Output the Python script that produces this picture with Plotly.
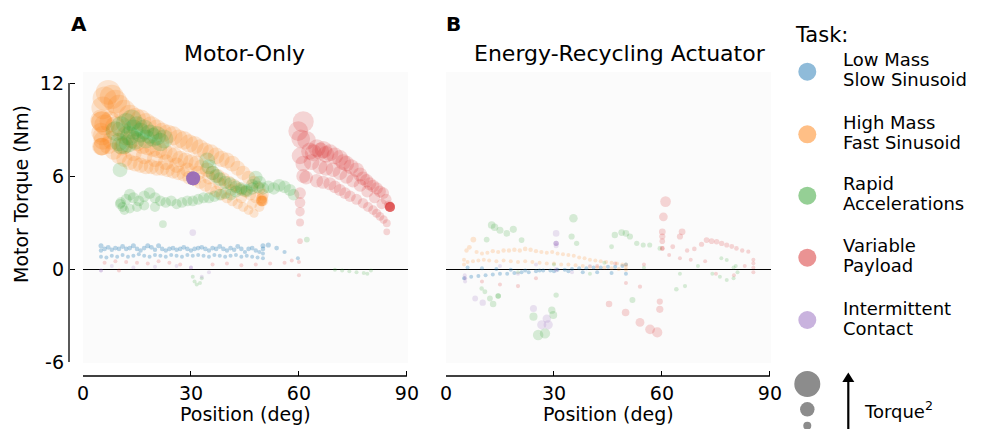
import plotly.graph_objects as go

W, H = 982, 429
FONT = "DejaVu Sans"

# ---------------- data: Panel A (Motor-Only) ----------------
a_blue_x = [5.0, 5.0, 6.0, 7.0, 8.0, 9.0, 10.0, 11.0, 12.0, 13.0, 14.0, 15.0, 16.0, 17.0, 18.0, 19.0, 20.0,
            21.0, 22.0, 23.0, 24.0, 25.0, 26.0, 27.0, 28.0, 29.0, 30.0, 31.0, 32.0, 33.0, 34.0, 35.0, 36.0,
            37.0, 38.0, 39.0, 40.0, 41.0, 42.0, 43.0, 44.0, 45.0, 46.0, 47.0, 48.0, 49.0, 50.0, 50.0, 50.0,
            5.0, 6.5, 8.0, 9.5, 11.0, 12.5, 14.0, 15.5, 17.0, 18.5, 20.0, 21.5, 23.0, 24.5, 26.0, 27.5, 29.0,
            30.5, 32.0, 33.5, 35.0, 36.5, 38.0, 39.5, 41.0, 42.5, 44.0, 45.5, 47.0, 48.5, 50.0,
            51.5, 53.8, 56.0, 59.7]
a_blue_t = [1.5, 1.2, 1.3, 1.4, 1.25, 1.35, 1.3, 1.45, 1.3, 1.35, 1.5, 1.3, 1.2, 1.35, 1.5, 1.4, 1.25,
            1.5, 1.3, 1.2, 1.3, 1.35, 1.25, 1.3, 1.4, 1.3, 1.2, 1.3, 1.35, 1.4, 1.3, 1.2, 1.35,
            1.3, 1.45, 1.3, 1.2, 1.35, 1.25, 1.45, 1.3, 1.1, 1.3, 1.35, 1.2, 1.1, 1.3, 1.0, 1.5,
            0.8, 0.75, 0.85, 0.8, 0.9, 0.8, 0.85, 0.95, 0.85, 0.8, 0.9, 0.85, 0.8, 0.9, 0.85, 0.8, 0.9,
            0.85, 0.9, 0.85, 0.8, 0.9, 0.85, 0.8, 0.85, 0.9, 0.8, 0.85, 0.8, 0.75, 0.7,
            1.55, 1.35, 1.1, 0.7]

a_orange_x = [5.0, 5.5, 6.0, 7.0, 8.0, 9.0, 10.0, 11.5, 13.0, 14.5, 16.0, 17.5, 19.0, 20.5, 22.0, 23.5, 25.0,
              26.5, 28.0, 29.5, 31.0, 32.5, 34.0, 35.5, 37.0, 38.5, 40.0, 41.5, 43.0, 44.5, 46.0, 47.5, 49.0, 50.0,
              5.0, 6.0, 7.5, 9.0, 10.5, 12.0, 13.5, 15.0, 16.5, 18.0, 19.5, 21.0, 22.5, 24.0, 25.5, 27.0,
              28.5, 30.0, 31.5, 33.0, 34.5, 36.0, 37.5, 39.0, 40.5, 42.0, 43.5, 45.0, 46.5, 48.0, 49.5,
              5.0, 5.5, 7.0, 8.5, 10.0, 11.5, 13.0, 14.5, 16.0, 17.5, 19.0, 20.5, 22.0, 23.5, 25.0, 26.5,
              28.0, 29.5, 31.0, 32.5, 34.0, 35.5, 37.0, 38.5, 40.0, 41.5, 43.0, 44.5, 46.0, 47.5, 49.0, 50.0,
              5.2, 5.2, 5.3, 5.3, 5.4, 49.6, 49.6, 49.8, 49.7,
              8.0, 11.0, 14.0, 17.0, 20.0, 23.0, 26.0, 29.0, 32.0, 35.0, 38.0, 41.0, 44.0, 47.0]
a_orange_t = [9.6, 10.4, 11.0, 11.4, 11.1, 10.8, 10.5, 10.2, 9.9, 9.7, 9.6, 9.4, 9.2, 9.0, 8.8, 8.7, 8.6,
              8.4, 8.3, 8.1, 8.0, 7.8, 7.6, 7.5, 7.3, 7.1, 7.0, 6.8, 6.5, 6.2, 5.9, 5.6, 5.2, 4.8,
              8.8, 9.3, 9.5, 9.2, 8.9, 8.6, 8.4, 8.2, 8.0, 7.9, 7.8, 7.7, 7.6, 7.4, 7.3, 7.1,
              7.0, 6.9, 6.8, 6.6, 6.4, 6.2, 6.0, 5.8, 5.6, 5.4, 5.2, 5.0, 4.8, 4.6, 4.5,
              7.9, 8.3, 8.0, 7.6, 7.3, 7.1, 6.9, 6.8, 6.7, 6.6, 6.6, 6.5, 6.5, 6.4, 6.3, 6.2,
              6.1, 5.9, 5.8, 5.6, 5.4, 5.2, 5.0, 4.8, 4.6, 4.4, 4.2, 4.0, 3.8, 3.6, 4.0, 4.4,
              9.5, 9.5, 7.9, 7.9, 8.6, 4.4, 4.4, 4.6, 4.4,
              8.3, 7.9, 7.5, 7.3, 7.1, 6.9, 6.7, 6.4, 6.2, 5.9, 5.5, 5.1, 4.6, 4.2]

a_green_x = [9.0, 10.0, 10.5, 11.5, 12.0, 13.0, 13.5, 14.5, 15.0, 16.0, 17.0, 17.5, 18.5, 19.5, 20.5, 21.5,
             22.5, 10.5, 12.5, 14.0, 10.3,
             34.5, 35.0, 36.0, 37.0, 38.0, 39.5, 41.0, 42.5, 44.0, 45.5, 47.0, 48.0, 49.0,
             10.3, 10.5, 11.0, 12.0, 13.0, 14.0, 15.5, 17.0, 18.5, 20.0, 21.5, 23.0, 24.5, 26.0, 27.5, 29.0,
             30.5, 32.0, 33.5, 35.0, 36.5, 38.0, 39.5, 41.0, 42.5, 44.0, 45.5, 47.0, 48.5, 50.0, 51.5, 53.0,
             54.5, 56.0, 57.5, 58.5, 11.5, 13.0, 15.0, 17.0, 20.0,
             22.2, 62.2, 30.5, 31.0, 31.6, 32.5, 33.0, 70.0, 72.0, 74.0, 76.0, 78.0, 80.0, 79.0]
a_green_t = [8.9, 8.2, 9.2, 8.0, 9.4, 8.6, 9.6, 8.3, 9.2, 8.8, 9.0, 8.4, 8.7, 8.5, 8.6, 8.2,
             8.4, 8.0, 8.1, 9.0, 6.4,
             7.0, 6.6, 6.2, 6.0, 5.8, 5.6, 5.5, 5.3, 5.2, 5.1, 5.4, 5.9, 5.6,
             4.2, 4.3, 4.0, 4.5, 4.8, 4.6, 4.4, 4.7, 4.9, 4.6, 4.4, 4.3, 4.4, 4.2, 4.3, 4.4,
             4.4, 4.5, 4.6, 4.6, 4.7, 4.8, 4.9, 4.8, 5.0, 5.1, 5.0, 5.2, 5.3, 5.2, 5.3, 5.2,
             5.4, 5.3, 5.1, 4.8, 3.8, 3.9, 4.0, 4.1, 4.0,
             2.9, 1.9, -0.5, -0.8, -1.0, -0.9, -0.6, -0.05, -0.1, -0.15, -0.2, -0.25, -0.1, -0.3]

a_red_x = [61.2, 59.8, 60.5, 62.1, 60.3, 61.2, 61.2, 60.3, 60.3, 60.3, 60.3, 60.3,
           63.0, 64.0, 65.0, 66.0, 66.8, 67.5, 68.6, 70.0, 71.4, 72.3, 73.2, 74.5, 76.0, 77.0, 77.8, 78.8,
           79.7, 80.6, 81.6, 82.5, 83.4, 84.2, 85.0, 85.3, 85.3, 85.3, 85.3, 85.3, 85.3,
           63.5, 65.8, 67.5, 69.5, 71.4, 73.2, 75.0, 77.0, 79.0, 81.0, 83.0,
           62.0, 64.9, 66.7, 68.6, 70.0, 71.4, 72.8, 74.2, 76.0, 77.8, 79.2, 80.6, 81.6, 82.5, 83.5, 84.4, 84.4,
           6.0, 9.0, 12.0, 15.0, 18.0, 21.0, 24.0, 27.0, 36.0, 40.0, 44.0, 48.0, 52.0, 56.0, 58.0, 60.0, 60.0, 10.0]
a_red_t = [9.5, 8.9, 8.4, 8.3, 7.3, 6.8, 6.0, 4.9, 4.3, 3.7, 3.0, 1.8,
           7.6, 7.5, 7.8, 7.6, 7.7, 7.4, 7.5, 7.3, 7.15, 6.9, 6.8, 6.6, 6.4, 6.1, 5.85, 5.7,
           5.5, 5.35, 5.2, 5.0, 4.9, 4.5, 4.1, 4.0, 4.0, 4.0, 4.0, 4.0, 4.0,
           6.9, 6.6, 6.5, 6.4, 6.2, 5.95, 5.7, 5.4, 5.0, 4.6, 4.2,
           5.9, 5.7, 5.6, 5.5, 5.3, 5.1, 4.9, 4.7, 4.5, 4.25, 4.0, 3.8, 3.6, 3.4, 3.2, 2.95, 2.4,
           0.4, 0.5, 0.45, 0.4, 0.35, 0.5, 0.4, 0.3, 0.3, 0.35, 0.25, 0.3, 0.35, 0.4, 0.55, 0.45, -0.4, -0.1]

a_purple_x = [30.6, 30.6, 30.6, 30.6, 30.6, 30.6, 30.6, 30.6, 30.6, 30.6, 30.6, 30.6,
              30.5, 5.0, 5.0, 30.0, 30.0,
              8.0, 14.0, 20.0, 26.0, 33.0, 35.0]
a_purple_t = [5.85, 5.85, 5.85, 5.85, 5.85, 5.85, 5.85, 5.85, 5.85, 5.85, 5.85, 5.85,
              2.35, -0.1, -0.1, 0.1, 0.1,
              0.2, 0.1, 0.15, 0.2, -0.5, -0.2]

# ---------------- data: Panel B (Energy-Recycling Actuator) ----------------
b_blue_x = [5, 7, 9, 11, 13, 15, 17, 19, 21, 23, 25, 27, 29, 31, 33, 35, 37, 39, 41, 43, 45, 47, 49, 50,
            6, 10, 14, 18, 22, 26, 30, 34, 38, 42, 46, 50]
b_blue_t = [-0.6, -0.5, -0.45, -0.4, -0.35, -0.3, -0.3, -0.25, -0.2, -0.2, -0.15, -0.1, -0.1, -0.05, -0.05,
            0.0, 0.05, 0.05, 0.1, 0.1, 0.15, 0.15, 0.2, 0.3,
            0.1, 0.05, 0.0, -0.05, -0.1, -0.1, -0.15, -0.15, -0.2, -0.2, -0.25, -0.3]

b_orange_x = [5.0, 5.7, 6.5, 7.6, 8.5, 10.0, 11.5, 13.0, 14.5, 16.0, 17.5, 19.0, 20.5, 22.0, 23.5, 25.0,
              26.5, 28.0, 29.5, 31.0, 32.5, 34.0, 35.5, 37.0, 38.5, 40.0, 41.5, 43.0, 44.5, 46.0, 47.5,
              49.0, 50.0,
              5.0, 6.0, 7.5, 9.0, 10.5, 12.0, 14.0, 16.0, 18.0, 20.0, 22.0, 24.0, 26.0, 28.0, 30.0, 32.0,
              34.0, 36.0, 38.0, 40.0, 42.0, 44.0, 46.0, 48.0, 50.0, 50.0]
b_orange_t = [0.6, 1.2, 1.4, 1.9, 1.1, 1.0, 1.05, 1.15, 1.1, 1.2, 1.2, 1.25, 1.2, 1.3, 1.25, 1.15,
              1.1, 1.05, 1.1, 1.0, 0.95, 0.9, 0.85, 0.75, 0.7, 0.6, 0.55, 0.5, 0.45, 0.4, 0.35,
              0.3, 0.3,
              0.3, 0.45, 0.5, 0.55, 0.6, 0.55, 0.5, 0.55, 0.5, 0.45, 0.5, 0.45, 0.4, 0.35, 0.35, 0.3,
              0.3, 0.25, 0.2, 0.15, 0.1, 0.1, 0.05, 0.0, -0.05, 0.15]

b_green_x = [11.3, 12.7, 13.5, 15.0, 16.9, 18.7, 21.0, 35.4, 34.9, 36.3, 46.0, 46.9, 48.8, 50.0, 51.1,
             53.0, 54.8, 56.6, 59.4,
             74.0, 76.1, 78.0, 79.9, 81.0, 80.5, 79.9, 78.0, 76.5,
             9.9, 10.8, 12.2, 14.5, 14.5, 13.1, 24.3, 25.6, 27.5, 29.4, 29.8, 30.6, 51.8, 66.4, 64.0,
             20.0, 30.0, 40.0, 44.0, 55.0, 65.0, 70.0]
b_green_t = [1.9, 2.84, 2.7, 2.5, 2.3, 2.56, 1.87, 3.27, 2.1, 1.66, 1.44, 2.2, 2.35, 2.3, 2.1,
             1.66, 1.55, 1.55, 1.33,
             -0.3, -0.5, -0.7, -0.6, -0.2, 0.2, 0.1, 0.58, 0.7,
             -1.25, -1.46, -1.9, -1.74, -1.74, -2.26, -3.07, -4.26, -4.15, -2.65, -2.97, -1.68, -2.0, -1.1, -1.3,
             -0.2, 0.3, -0.3, 0.4, 0.1, -0.3, 0.2]

b_red_x = [61.0, 60.4, 60.1, 60.1, 60.1, 60.1, 60.1, 65.6, 65.0, 63.0, 67.0, 69.0, 71.0, 72.4, 73.8, 75.2,
           76.6, 78.0, 79.4, 80.7, 82.3, 84.0, 85.4, 85.4, 85.4, 85.4,
           45.3, 49.9, 53.9, 56.7, 58.7, 59.4, 59.4, 53.9,
           10.0, 15.0, 20.0, 25.0, 42.0, 55.0, 62.0, 65.0, 68.0, 72.0, 75.0, 80.0, 83.0, 50.0, 47.0]
b_red_t = [4.35, 3.37, 2.4, 2.1, 1.8, 1.33, 1.33, 2.4, 2.1, 1.44, 1.2, 1.3, 1.6, 1.87, 1.8, 1.76,
           1.65, 1.55, 1.45, 1.33, 1.2, 1.12, 0.6, 0.37, 0.1, -0.2,
           -2.26, -2.8, -3.44, -3.89, -4.09, -2.1, -2.6, -1.14,
           -0.8, -1.0, -1.1, -0.6, 0.2, 0.3, 0.9, 0.7, 0.6, 0.5, -0.3, -0.4, 0.2, -0.9, 0.35]

b_purple_x = [5.3, 5.3, 5.3, 5.2, 8.1, 10.2, 24.3, 26.6, 28.4, 28.0, 30.6, 30.6, 30.6, 30.6, 30.6, 30.6, 30.6,
              15.0, 20.0, 25.0, 35.0, 40.0]
b_purple_t = [-0.6, -0.6, -0.8, -0.4, -1.9, -2.17, -2.54, -3.6, -3.6, -3.2, 2.3, 1.66, 1.66, 1.66, 1.5, 0.0, -0.1,
              0.2, -0.3, 0.3, -0.2, 0.2]

task_names = [["Low Mass", "Slow Sinusoid"], ["High Mass", "Fast Sinusoid"], ["Rapid", "Accelerations"],
              ["Variable", "Payload"], ["Intermittent", "Contact"]]
task_colors = ["#1f77b4", "#ff7f0e", "#2ca02c", "#d62728", "#9467bd"]
legend_colors = ["#8fbbd9", "#ffbf86", "#95cf95", "#ea9393", "#c9b3de"]
x_ticks = [0, 30, 60, 90]
y_ticks = [-6, 0, 6, 12]
y_ticktext = ["-6", "0", "6", "12"]


def X(px):
    return px / W


def Y(py):
    return 1 - py / H


def sizes(t):
    return [2 + 2.0 * abs(v) for v in t]


fig = go.Figure()

panels = [
    ("x", "y", [(a_blue_x, a_blue_t), (a_orange_x, a_orange_t), (a_green_x, a_green_t),
                (a_red_x, a_red_t), (a_purple_x, a_purple_t)]),
    ("x2", "y2", [(b_blue_x, b_blue_t), (b_orange_x, b_orange_t), (b_green_x, b_green_t),
                  (b_red_x, b_red_t), (b_purple_x, b_purple_t)]),
]
for xa, ya, series in panels:
    for i, (xs, ts) in enumerate(series):
        fig.add_trace(go.Scatter(
            x=xs, y=ts, mode="markers", xaxis=xa, yaxis=ya, showlegend=False,
            hoverinfo="skip",
            marker=dict(size=sizes(ts), sizemode="diameter", sizemin=2, color=task_colors[i],
                        opacity=0.3 if i == 0 else 0.18, line=dict(width=0)),
        ))

XR = [0, 90.3]
YR = [-6.06, 12.71]
tickfont = dict(family=FONT, size=19, color="black")
axis_common = dict(showgrid=False, showline=False, ticks="inside", ticklen=5, automargin=False,
                   tickwidth=1.3, tickcolor="black", tickfont=tickfont)

fig.update_layout(
    width=W, height=H, margin=dict(l=0, r=0, t=0, b=0, autoexpand=False), autosize=False,
    paper_bgcolor="white", plot_bgcolor="#fbfbfb",
    font=dict(family=FONT, color="black"),
    xaxis=dict(domain=[X(83), X(408)], range=XR, anchor="free", position=Y(376),
               tickvals=x_ticks, ticklabelstandoff=4, zeroline=False, **axis_common),
    yaxis=dict(domain=[Y(363), Y(72)], range=YR, anchor="free", position=X(69),
               tickvals=y_ticks, ticktext=y_ticktext, ticklabelstandoff=5, **axis_common,
               zeroline=True, zerolinecolor="black", zerolinewidth=1.2),
    xaxis2=dict(domain=[X(446), X(771)], range=XR, anchor="free", position=Y(376),
                tickvals=x_ticks, ticklabelstandoff=4, zeroline=False, **axis_common),
    yaxis2=dict(domain=[Y(363), Y(72)], range=YR, anchor="x2", showticklabels=False, ticks="",
                automargin=False, showgrid=False, showline=False, zeroline=True,
                zerolinecolor="black", zerolinewidth=1.2),
)

shapes = []
# spines
shapes.append(dict(type="line", xref="paper", yref="y", x0=X(69), x1=X(69), y0=-6, y1=12,
                   line=dict(color="black", width=1.3)))
shapes.append(dict(type="line", xref="x", yref="paper", x0=0, x1=90, y0=Y(376), y1=Y(376),
                   line=dict(color="black", width=1.3)))
shapes.append(dict(type="line", xref="x2", yref="paper", x0=0, x1=90, y0=Y(376), y1=Y(376),
                   line=dict(color="black", width=1.3)))

annotations = []


def ann(text, px, py, size, xanchor="center", bold=False, angle=0):
    annotations.append(dict(text=f"<b>{text}</b>" if bold else text, x=X(px), y=Y(py), xref="paper",
                            yref="paper", showarrow=False, xanchor=xanchor, yanchor="middle",
                            textangle=angle, font=dict(family=FONT, size=size, color="black")))


ann("A", 78.5, 24, 20, bold=True)
ann("B", 453, 24, 20, bold=True)
ann("Motor-Only", 244, 54, 22)
ann("Energy-Recycling Actuator", 620, 54, 22)
ann("Position (deg)", 245, 414, 19)
ann("Position (deg)", 608, 414, 19)
ann("Motor Torque (Nm)", 21, 194, 19, angle=-90)

# legend
ann("Task:", 793, 35, 21, xanchor="left")
leg_y = [71.7, 134.3, 195.7, 257.7, 320.0]
for (l1, l2), c, cy in zip(task_names, legend_colors, leg_y):
    r = 9
    shapes.append(dict(type="circle", xref="paper", yref="paper", x0=X(807.3 - r), x1=X(807.3 + r),
                       y0=Y(cy + r), y1=Y(cy - r), fillcolor=c, line=dict(width=0)))
    ann(l1, 841, cy - 12, 18, xanchor="left")
    ann(l2, 841, cy + 8, 18, xanchor="left")

# size legend
for cy, d in [(384, 26), (409.3, 14.5), (425.7, 8)]:
    shapes.append(dict(type="circle", xref="paper", yref="paper", x0=X(807.3 - d / 2), x1=X(807.3 + d / 2),
                       y0=Y(cy + d / 2), y1=Y(cy - d / 2), fillcolor="#8c8c8c", line=dict(width=0)))
shapes.append(dict(type="line", xref="paper", yref="paper", x0=X(848.3), x1=X(848.3), y0=Y(432), y1=Y(380),
                   line=dict(color="black", width=2.2)))
shapes.append(dict(type="path", xref="paper", yref="paper",
                   path=f"M {X(842.3)},{Y(382)} L {X(854.3)},{Y(382)} L {X(848.3)},{Y(372.5)} Z",
                   fillcolor="black", line=dict(width=0)))
ann("Torque<sup>2</sup>", 862, 410, 18, xanchor="left")

fig.update_layout(shapes=shapes, annotations=annotations)
fig.write_html("out.html", config={"displayModeBar": False},
               post_script="document.body.style.margin='0px';")
